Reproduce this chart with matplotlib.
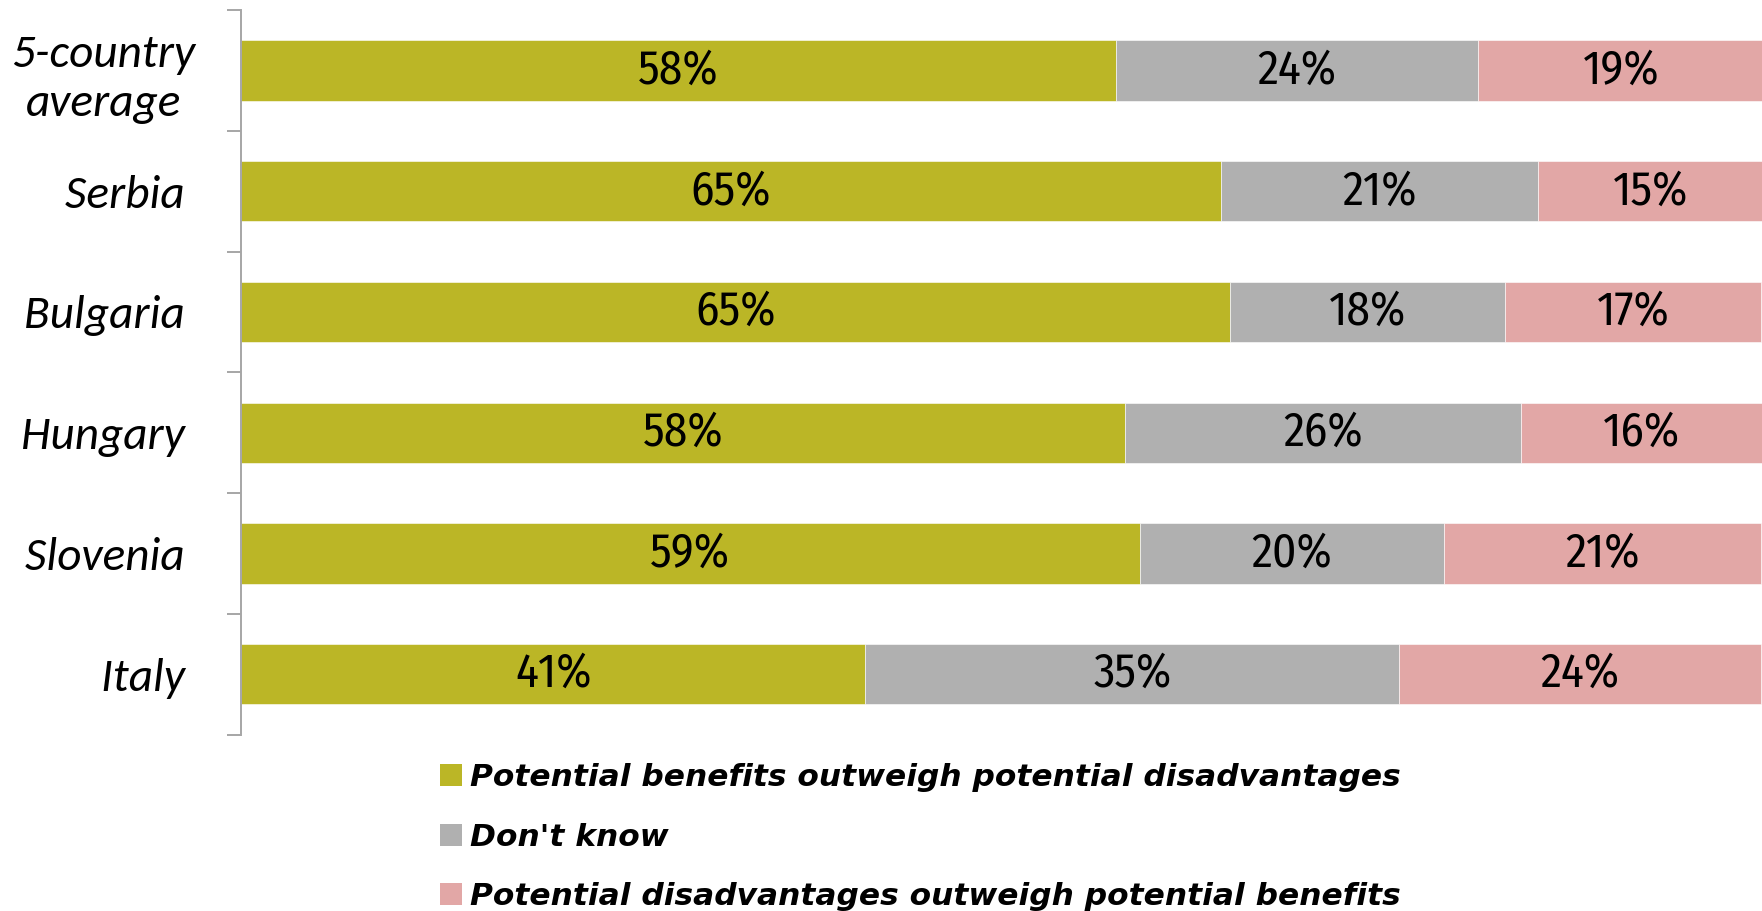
import matplotlib.pyplot as plt
from matplotlib.patches import Patch
import numpy as np

# =============================
# Data
# =============================
countries = ["5-country\naverage", "Serbia ", "Bulgaria ", "Hungary ", "Slovenia ", "Italy "]
benefits = [58.0, 65.0, 65.6, 58.6, 59.6, 41.4]
dont_know = [24.0, 21.0, 18.2, 26.3, 20.2, 35.4]
disadvantages = [19.0, 15.0, 17.0, 16.0, 21.0, 24.0]
benefits_lbl = [58, 65, 65, 58, 59, 41]
dont_know_lbl = [24, 21, 18, 26, 20, 35]
disadvantages_lbl = [19, 15, 17, 16, 21, 24]
series_names = ["Potential benefits outweigh potential disadvantages",
                "Don't know",
                "Potential disadvantages outweigh potential benefits"]

colors = ["#BBB626", "#B0B0B0", "#E2A7A6"]
num_font = ["Fira Sans Condensed", "DejaVu Sans"]
cat_font = ["Carlito", "Fira Sans", "DejaVu Sans"]
leg_font = ["DejaVu Sans"]

fig = plt.figure(figsize=(17.62, 9.11), dpi=100)
ax = fig.add_axes([241 / 1762, 1 - 734.5 / 911, (1749 - 241) / 1762, 724.3 / 911])

y = np.arange(len(countries))
left = np.zeros(len(countries))
for vals, lbls, col in zip([benefits, dont_know, disadvantages],
                           [benefits_lbl, dont_know_lbl, disadvantages_lbl], colors):
    bars = ax.barh(y, vals, left=left, height=0.5, color=col,
                   edgecolor="white", linewidth=0.4, clip_on=False)
    for b, lab in zip(bars, lbls):
        ax.text(b.get_x() + b.get_width() / 2, b.get_y() + b.get_height() / 2,
                f"{lab}%", ha="center", va="center", fontsize=34,
                family=num_font, color="black", clip_on=False)
    left += np.array(vals)

ax.set_xlim(0, 100)
ax.set_ylim(len(countries) - 0.5, -0.5)
ax.set_xticks([])

# boundary ticks on the left spine, labels at bar centres
ax.set_yticks(np.arange(-0.5, len(countries)), labels=[])
ax.set_yticks(y, labels=countries, minor=True)
ax.tick_params(axis="y", which="major", length=10, width=1.4, color="#A6A6A6", direction="out")
ax.tick_params(axis="y", which="minor", length=0, pad=33)
for lab in ax.get_yticklabels(minor=True):
    lab.set_fontsize(34)
    lab.set_fontstyle("italic")
    lab.set_family(cat_font)
    lab.set_multialignment("center")
    lab.set_linespacing(1.25)

for s in ["top", "right", "bottom"]:
    ax.spines[s].set_visible(False)
ax.spines["left"].set_color("#A6A6A6")
ax.spines["left"].set_linewidth(1.4)

handles = [Patch(facecolor=c, edgecolor="none") for c in colors]
fig.legend(handles, series_names, loc="upper left",
           bbox_to_anchor=(440 / 1762, 1 - 763 / 911),
           frameon=False, borderpad=0, borderaxespad=0,
           handlelength=0.7, handleheight=0.7, handletextpad=0.26,
           labelspacing=0.98,
           prop={"family": leg_font, "size": 22.5, "weight": "bold", "style": "italic"})

fig.savefig("out.png", dpi=100)
